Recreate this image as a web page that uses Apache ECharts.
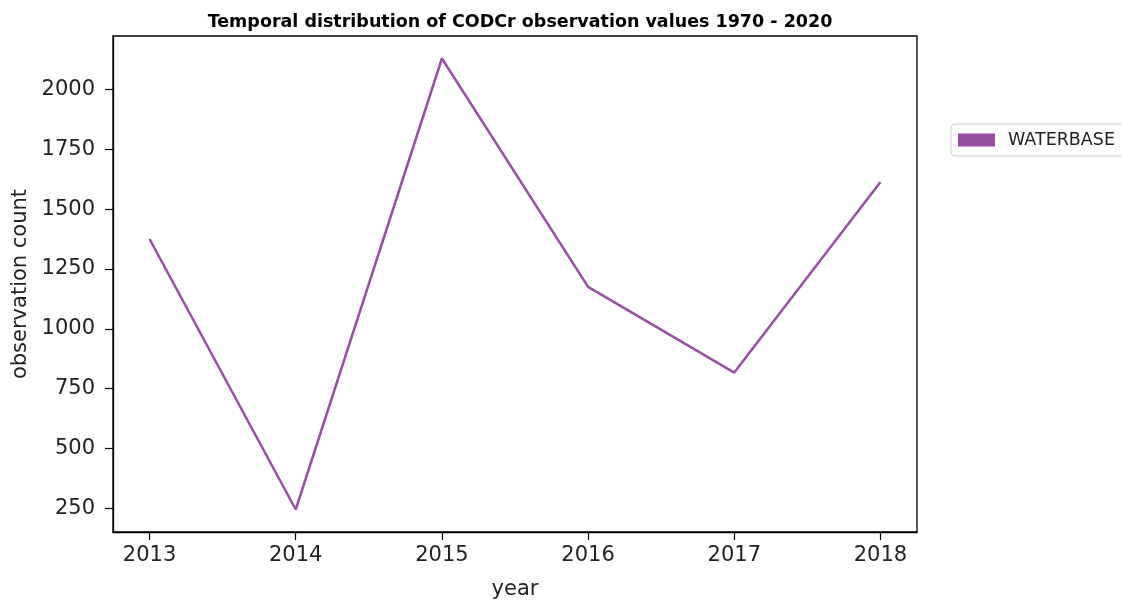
<!DOCTYPE html>
<html><head><meta charset="utf-8">
<script src="https://cdn.jsdelivr.net/npm/echarts@6/dist/echarts.min.js"></script>
<style>html,body{margin:0;padding:0;background:#fff}#c{width:1122px;height:603px}</style>
</head><body><div id="c"></div>
<script>
const years = [2013, 2014, 2015, 2016, 2017, 2018];
const waterbase = [1375, 245, 2129, 1175, 817, 1613];
const yTicks = [250, 500, 750, 1000, 1250, 1500, 1750, 2000];
const xTicks = [2013, 2014, 2015, 2016, 2017, 2018];

const chart = echarts.init(document.getElementById('c'));
const font = 'DejaVu Sans';
chart.setOption({
  animation: false,
  backgroundColor: '#fff',
  title: {
    text: 'Temporal distribution of CODCr observation values 1970 - 2020',
    left: 515, top: 8, textAlign: 'center',
    textStyle: {fontFamily: font, fontSize: 17.5, fontWeight: 'bold', color: '#000'}
  },
  legend: {
    left: 951, top: 124, orient: 'vertical',
    padding: [7, 10, 7, 7],
    itemWidth: 37, itemHeight: 13, itemGap: 8,
    borderColor: '#d0d0d0', borderWidth: 1, borderRadius: 4,
    textStyle: {fontFamily: font, fontSize: 17.5, color: '#222', padding: [0, 0, 0, 8]},
    data: [{name: 'WATERBASE', icon: 'rect'}]
  },
  grid: {left: 113, right: 205, top: 36, bottom: 71, show: true, borderColor: '#000', borderWidth: 1.3, backgroundColor: 'transparent', outerBoundsMode: 'none', containLabel: false},
  xAxis: {
    type: 'value', min: 2012.75, max: 2018.25,
    name: 'year', nameLocation: 'middle', nameGap: 47,
    nameTextStyle: {fontFamily: font, fontSize: 21, color: '#222'},
    axisLine: {show: true, lineStyle: {color: '#000', width: 1.3}},
    axisTick: {show: true, length: 8, lineStyle: {color: '#000', width: 1.2}, customValues: xTicks},
    axisLabel: {fontFamily: font, fontSize: 21, color: '#222', margin: 13, customValues: xTicks, formatter: v => String(v)},
    splitLine: {show: false}
  },
  yAxis: {
    type: 'value', min: 151, max: 2223,
    name: 'observation count', nameLocation: 'middle', nameGap: 76,
    nameTextStyle: {fontFamily: font, fontSize: 21, color: '#222'},
    axisLine: {show: true, lineStyle: {color: '#000', width: 1.3}},
    axisTick: {show: true, length: 8, lineStyle: {color: '#000', width: 1.2}, customValues: yTicks},
    axisLabel: {fontFamily: font, fontSize: 21, color: '#222', margin: 18, customValues: yTicks, formatter: v => String(v)},
    splitLine: {show: false}
  },
  series: [{
    name: 'WATERBASE', type: 'line',
    data: years.map((y, i) => [y, waterbase[i]]),
    showSymbol: false, symbol: 'none',
    itemStyle: {color: '#984ea3'},
    lineStyle: {color: '#984ea3', width: 2.5}
  }]
});
</script></body></html>
